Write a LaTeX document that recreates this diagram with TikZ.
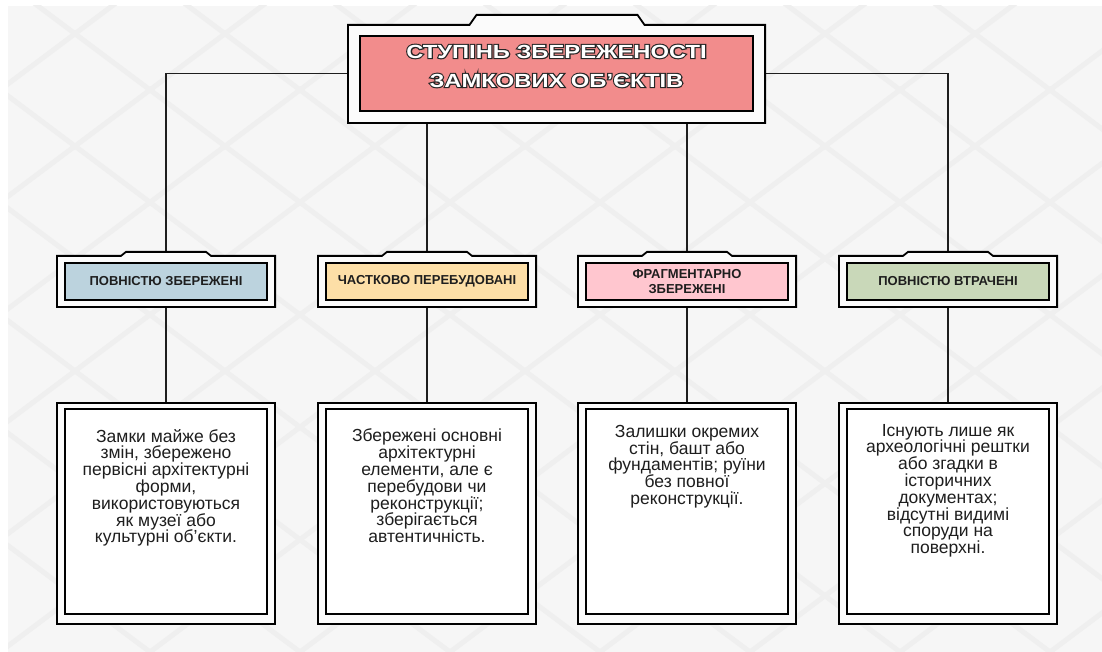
\documentclass[tikz,border=0pt]{standalone}
\usepackage{fontspec}
\setmainfont{Liberation Sans}
\newfontfamily\titrefont[FakeStretch=1.25]{Liberation Sans Bold}
\newfontfamily\titrecontour[FakeStretch=1.25, FakeBold=12]{Liberation Sans Bold}
\usetikzlibrary{backgrounds}

\definecolor{fond}{HTML}{F6F6F6}
\definecolor{motif}{HTML}{EFEFEF}
\definecolor{saumon}{HTML}{F28C8C}
\definecolor{bleu}{HTML}{BCD3DE}
\definecolor{jaune}{HTML}{FDDFA7}
\definecolor{rose}{HTML}{FFC6CF}
\definecolor{vert}{HTML}{C9D8B9}
\definecolor{encre}{HTML}{1E1E1E}

\begin{document}
\begin{tikzpicture}[x=1pt, y=1pt]
  %tikz%
  % Ступінь збереженості замкових об'єктів
  %tikz%
    \tikzset{boite/.style={draw=black, line width=2.2pt, inner sep=0pt},
             cadre/.style={draw=black, line width=1.8pt, fill=white!60!fond},
             lien/.style={draw=encre, line width=1.8pt},
             categorie/.style={boite, minimum width=202, minimum height=37,
               align=center, font=\fontsize{13}{15}\selectfont\bfseries, text=encre},
             texte/.style={align=center, inner sep=0pt, text=encre,
               font=\fontsize{17.5}{16.8}\selectfont},
             titretexte/.style={align=center, inner sep=0pt}}

    \useasboundingbox (0,0) rectangle (1102,652);
    \begin{scope}[on background layer]
      \fill[fond] (8,0) rectangle (1102,646);
      \begin{scope}
        \clip (8,0) rectangle (1102,646);
        \foreach \k in {-5,...,12}{
          \draw[motif, line width=5pt] (\k*150, 0) -- ++(870, 652);
          \draw[motif, line width=5pt] (\k*150, 0) -- ++(-870, 652);
        }
      \end{scope}
    \end{scope}

    % titre
    \node[boite, fill=saumon, minimum width=393, minimum height=75] (titre) at (556.5, 578.5) {};
    \node[titretexte, text=black!85, font=\fontsize{19}{29}\selectfont\titrecontour]
      (titreombre) at ([yshift=7.5]titre.center) {СТУПІНЬ ЗБЕРЕЖЕНОСТІ\\ЗАМКОВИХ ОБ’ЄКТІВ};
    \node[titretexte, text=white, font=\fontsize{19}{29}\selectfont\titrefont]
      (titretxt) at (titreombre.center) {СТУПІНЬ ЗБЕРЕЖЕНОСТІ\\ЗАМКОВИХ ОБ’ЄКТІВ};

    % categories
    \foreach \i/\x/\couleur/\nom in {1/166/bleu/{ПОВНІСТЮ ЗБЕРЕЖЕНІ},
        2/427/jaune/{ЧАСТКОВО ПЕРЕБУДОВАНІ},
        3/687/rose/{ФРАГМЕНТАРНО\\ЗБЕРЕЖЕНІ},
        4/948/vert/{ПОВНІСТЮ ВТРАЧЕНІ}}{
      \node[categorie, fill=\couleur] (cat\i) at (\x, 370.5) {\nom};
      \node[boite, fill=white, minimum width=202, minimum height=205] (desc\i) at (\x, 140.5) {};
    }

    % descriptions
    \node[texte, anchor=north] (txt1) at ([yshift=-21]desc1.north)
      {Замки майже без\\змін, збережено\\первісні архітектурні\\форми,\\використовуються\\як музеї або\\культурні об’єкти.};
    \node[texte, anchor=north] (txt2) at ([yshift=-21]desc2.north)
      {Збережені основні\\архітектурні\\елементи, але є\\перебудови чи\\реконструкції;\\зберігається\\автентичність.};
    \node[texte, anchor=north] (txt3) at ([yshift=-17]desc3.north)
      {Залишки окремих\\стін, башт або\\фундаментів; руїни\\без повної\\реконструкції.};
    \node[texte, anchor=north] (txt4) at ([yshift=-16]desc4.north)
      {Існують лише як\\археологічні рештки\\або згадки в\\історичних\\документах;\\відсутні видимі\\споруди на\\поверхні.};

    \begin{scope}[on background layer]
      % liens
      \draw[lien] (titre) -| (cat1);
      \draw[lien] (titre) -| (cat4);
      \draw[lien] (cat2) -- (cat2 |- titre);
      \draw[lien] (cat3) -- (cat3 |- titre);
      \foreach \i in {1,...,4}{
        \draw[lien] (cat\i) -- (desc\i);
      }

      % cadres
      \draw[cadre] ([shift={(-11,-11)}]titre.south west) -- ([shift={(-11,10)}]titre.north west)
        -- ([shift={(-87,10)}]titre.north) -- ([shift={(-80,20)}]titre.north)
        -- ([shift={(81,20)}]titre.north) -- ([shift={(88,10)}]titre.north)
        -- ([shift={(11,10)}]titre.north east) -- ([shift={(11,-11)}]titre.south east) -- cycle;
      \foreach \i in {1,...,4}{
        \draw[cadre] ([shift={(-7,-6)}]cat\i.south west) -- ([shift={(-7,6)}]cat\i.north west)
          -- ([shift={(-45,6)}]cat\i.north) -- ([shift={(-40,10)}]cat\i.north)
          -- ([shift={(40,10)}]cat\i.north) -- ([shift={(45,6)}]cat\i.north)
          -- ([shift={(7,6)}]cat\i.north east) -- ([shift={(7,-6)}]cat\i.south east) -- cycle;
        \draw[cadre] ([shift={(-7,-9)}]desc\i.south west) rectangle ([shift={(7,5)}]desc\i.north east);
      }
    \end{scope}

  \end{tikzpicture}
\end{document}
